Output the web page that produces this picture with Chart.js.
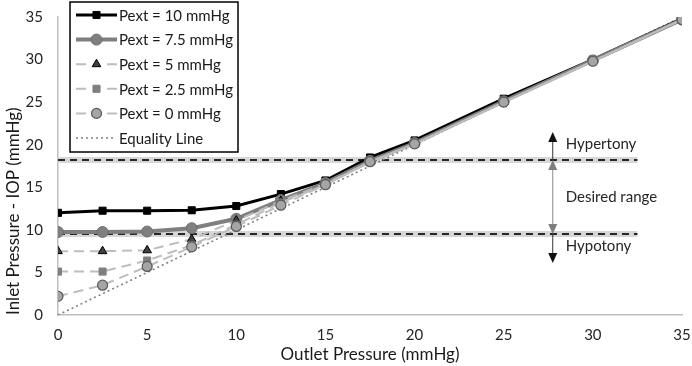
<!DOCTYPE html>
<html><head><meta charset="utf-8">
<script src="https://cdn.jsdelivr.net/npm/chart.js@4"></script>
<style>html,body{margin:0;padding:0;background:#fff}#wrap{width:692px;height:366px;position:relative}</style>
</head><body><div id="wrap"><canvas id="c"></canvas></div>
<script>
// ---- data ----
const outletPressure = [0, 2.5, 5, 7.5, 10, 12.5, 15, 17.5, 20, 25, 30, 35];
const pext10  = [12.0, 12.25, 12.25, 12.3, 12.8, 14.2, 15.8, 18.5, 20.5, 25.4, 30.0, 34.8];
const pext7_5 = [9.75, 9.75, 9.8, 10.2, 11.3, 13.5, 15.5, 18.1, 20.2, 25.1, 29.9, 34.7];
const pext5   = [7.5, 7.5, 7.6, 8.9, 11.1, 13.4, 15.4, 18.0, 20.1, 25.0, 29.8, 34.7];
const pext2_5 = [5.1, 5.1, 6.4, 8.2, 10.6, 13.2, 15.3, 18.0, 20.1, 25.0, 29.8, 34.7];
const pext0   = [2.2, 3.5, 5.7, 8.0, 10.4, 12.9, 15.3, 18.0, 20.1, 25.0, 29.8, 34.7];
const equalityX = [0, 35];
const equalityY = [0, 35];
const thresholdX = [0, 32.5];
const hypertonyLevel = 18.2;
const hypotonyLevel = 9.5;
const arrowX = 27.75;
const arrowTop = 21.5;
const arrowBottom = 6.1;
const xTicks = [0, 5, 10, 15, 20, 25, 30, 35];
const yTicks = [0, 5, 10, 15, 20, 25, 30, 35];
const seriesNames = ['Pext = 10 mmHg', 'Pext = 7.5 mmHg', 'Pext = 5 mmHg', 'Pext = 2.5 mmHg', 'Pext = 0 mmHg', 'Equality Line'];
const zoneLabels = ['Hypertony', 'Desired range', 'Hypotony'];

const pts = (xs, ys) => xs.map((x, i) => ({x, y: ys[i]}));
const FONT = 'Lato, "Open Sans", sans-serif';

const datasets = [
  {label: seriesNames[0], data: pts(outletPressure, pext10), borderColor: '#000', backgroundColor: '#000', borderWidth: 3,
   pointStyle: 'rect', pointRadius: 5, pointBorderColor: '#000', pointBackgroundColor: '#000', pointBorderWidth: 1, order: 5, legend: true},
  {label: seriesNames[1], data: pts(outletPressure, pext7_5), borderColor: '#7f7f7f', backgroundColor: '#7f7f7f', borderWidth: 4,
   pointStyle: 'circle', pointRadius: 5.5, pointBorderColor: '#707070', pointBackgroundColor: '#7f7f7f', pointBorderWidth: 1, order: 4, legend: true},
  {label: seriesNames[2], data: pts(outletPressure, pext5), borderColor: '#bdbdbd', backgroundColor: '#404040', borderWidth: 2, borderDash: [10, 6],
   pointStyle: 'triangle', pointRadius: 5, pointBorderColor: '#000', pointBackgroundColor: '#404040', pointBorderWidth: 1, order: 3, legend: true},
  {label: seriesNames[3], data: pts(outletPressure, pext2_5), borderColor: '#bdbdbd', backgroundColor: '#7f7f7f', borderWidth: 2, borderDash: [10, 6],
   pointStyle: 'rect', pointRadius: 5, pointBorderColor: '#7f7f7f', pointBackgroundColor: '#7f7f7f', pointBorderWidth: 1, order: 2, legend: true},
  {label: seriesNames[4], data: pts(outletPressure, pext0), borderColor: '#bdbdbd', backgroundColor: '#a5a5a5', borderWidth: 2, borderDash: [10, 6],
   pointStyle: 'circle', pointRadius: 5, pointBorderColor: '#595959', pointBackgroundColor: '#a5a5a5', pointBorderWidth: 1.2, order: 1, legend: true},
  {label: seriesNames[5], data: pts(equalityX, equalityY), borderColor: '#808080', borderWidth: 1.6, borderDash: [2, 3],
   pointRadius: 0, order: 6, legend: true},
  {label: 'hyper-halo', data: pts(thresholdX, [hypertonyLevel, hypertonyLevel]), borderColor: '#d6d6d6', borderWidth: 6, pointRadius: 0, order: 9},
  {label: 'hyper', data: pts(thresholdX, [hypertonyLevel, hypertonyLevel]), borderColor: '#262626', borderWidth: 2, borderDash: [7, 5], pointRadius: 0, order: 8},
  {label: 'hypo-halo', data: pts(thresholdX, [hypotonyLevel, hypotonyLevel]), borderColor: '#d6d6d6', borderWidth: 6, pointRadius: 0, order: 9},
  {label: 'hypo', data: pts(thresholdX, [hypotonyLevel, hypotonyLevel]), borderColor: '#262626', borderWidth: 2, borderDash: [7, 5], pointRadius: 0, order: 8}
];
datasets.forEach(d => { d.fill = false; d.tension = 0; d.hoverRadius = d.pointRadius; });

function arrowHead(ctx, x, y, dir, color) {
  ctx.save(); ctx.fillStyle = color; ctx.beginPath();
  ctx.moveTo(x, y); ctx.lineTo(x - 4.5, y - dir * 10); ctx.lineTo(x + 4.5, y - dir * 10); ctx.closePath(); ctx.fill(); ctx.restore();
}

const annotPlugin = {
  id: 'annot',
  afterDatasetsDraw(chart) {
    const {ctx, scales: {x, y}} = chart;
    const ax = x.getPixelForValue(arrowX);
    const yTop = y.getPixelForValue(arrowTop), yHi = y.getPixelForValue(hypertonyLevel);
    const yLo = y.getPixelForValue(hypotonyLevel), yBot = y.getPixelForValue(arrowBottom);
    ctx.save();
    ctx.strokeStyle = '#333'; ctx.lineWidth = 1;
    ctx.beginPath(); ctx.moveTo(ax, yHi); ctx.lineTo(ax, yTop + 8); ctx.stroke();
    arrowHead(ctx, ax, yTop, -1, '#111');
    ctx.strokeStyle = '#8c8c8c';
    ctx.beginPath(); ctx.moveTo(ax, yHi + 8); ctx.lineTo(ax, yLo - 8); ctx.stroke();
    arrowHead(ctx, ax, yHi, -1, '#7f7f7f');
    arrowHead(ctx, ax, yLo, 1, '#7f7f7f');
    ctx.strokeStyle = '#333';
    ctx.beginPath(); ctx.moveTo(ax, yLo); ctx.lineTo(ax, yBot - 8); ctx.stroke();
    arrowHead(ctx, ax, yBot, 1, '#111');
    ctx.fillStyle = '#262626'; ctx.font = '15px ' + FONT; ctx.textBaseline = 'middle'; ctx.textAlign = 'left';
    const tx = ax + 13;
    ctx.fillText(zoneLabels[0], tx, (yTop + yHi) / 2 - 2);
    ctx.fillText(zoneLabels[1], tx, (yHi + yLo) / 2);
    ctx.fillText(zoneLabels[2], tx, (yLo + yBot) / 2 - 2);
    ctx.restore();

    const L = 70, T = 2, W = 168, H = 150;
    ctx.save();
    ctx.fillStyle = '#fff'; ctx.fillRect(L, T, W, H);
    ctx.strokeStyle = '#000'; ctx.lineWidth = 1.5; ctx.strokeRect(L, T, W, H);
    const items = chart.data.datasets.filter(d => d.legend);
    items.forEach((d, i) => {
      const cy = T + 13 + i * 24.6;
      const x0 = L + 6, x1 = L + 47, xm = (x0 + x1) / 2;
      ctx.save();
      ctx.strokeStyle = d.borderColor; ctx.lineWidth = d.borderWidth;
      if (d.borderDash) {
        ctx.setLineDash(d.pointRadius ? [] : d.borderDash);
        if (d.pointRadius) {
          ctx.beginPath(); ctx.moveTo(x0, cy); ctx.lineTo(x0 + 10, cy); ctx.moveTo(x1 - 10, cy); ctx.lineTo(x1, cy); ctx.stroke();
        } else {
          ctx.beginPath(); ctx.moveTo(x0, cy); ctx.lineTo(x1 - 4, cy); ctx.stroke();
        }
      } else {
        ctx.beginPath(); ctx.moveTo(x0, cy); ctx.lineTo(x1, cy); ctx.stroke();
      }
      ctx.restore();
      if (d.pointRadius) {
        ctx.save();
        ctx.fillStyle = d.pointBackgroundColor; ctx.strokeStyle = d.pointBorderColor; ctx.lineWidth = d.pointBorderWidth;
        Chart.helpers.drawPoint(ctx, {pointStyle: d.pointStyle, radius: d.pointRadius, borderWidth: d.pointBorderWidth, rotation: 0}, xm, cy);
        ctx.restore();
      }
      ctx.fillStyle = '#1a1a1a'; ctx.font = '15px ' + FONT; ctx.textBaseline = 'middle'; ctx.textAlign = 'left';
      ctx.fillText(d.label, L + 49, cy + 1);
    });
    ctx.restore();
  }
};

new Chart(document.getElementById('c'), {
  type: 'line',
  data: {datasets},
  options: {
    responsive: true, maintainAspectRatio: false, animation: false,
    layout: {padding: {top: 17, right: 10, left: 0, bottom: 0}},
    plugins: {legend: {display: false}, tooltip: {enabled: false}},
    scales: {
      x: {
        type: 'linear', min: 0, max: 35,
        afterBuildTicks: s => { s.ticks = xTicks.map(v => ({value: v})); },
        afterFit: s => { s.height = 51; s.paddingLeft = 0; s.paddingRight = 0; },
        grid: {display: true, color: 'rgba(0,0,0,0)', drawTicks: false},
        border: {display: true, color: '#bfbfbf', width: 1.5},
        ticks: {color: '#262626', font: {family: FONT, size: 15}, padding: 11, maxRotation: 0},
        title: {display: true, text: 'Outlet Pressure (mmHg)', color: '#1a1a1a', font: {family: FONT, size: 17}, padding: {top: 0, bottom: 1}}
      },
      y: {
        type: 'linear', min: 0, max: 35,
        afterBuildTicks: s => { s.ticks = yTicks.map(v => ({value: v})); },
        afterFit: s => { s.width = 58; s.paddingTop = 0; s.paddingBottom = 0; },
        grid: {display: true, color: 'rgba(0,0,0,0)', drawTicks: false},
        border: {display: true, color: '#bfbfbf', width: 1.5},
        ticks: {color: '#262626', font: {family: FONT, size: 15}, padding: 15},
        title: {display: true, text: 'Inlet Pressure - IOP (mmHg)', align: 'start', color: '#1a1a1a', font: {family: FONT, size: 17}, padding: {top: 3, bottom: 0}}
      }
    }
  },
  plugins: [annotPlugin]
});
</script>
</body></html>
